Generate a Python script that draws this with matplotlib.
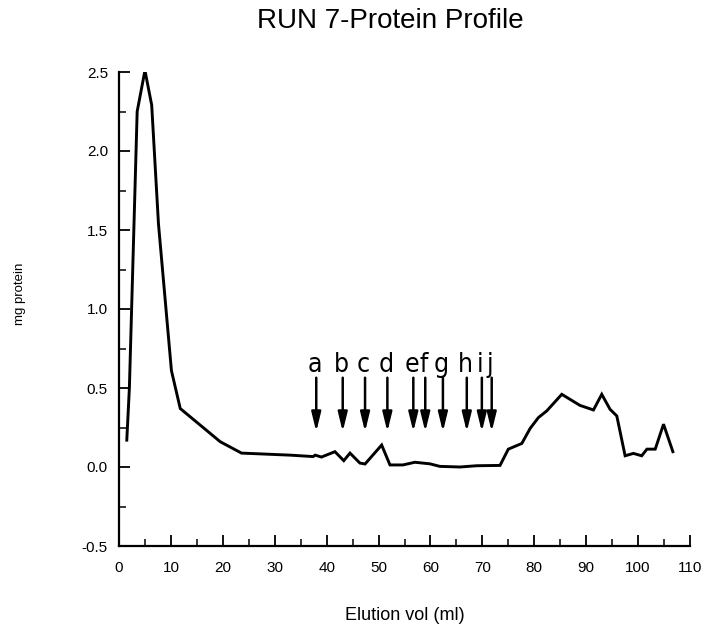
import matplotlib
matplotlib.use("Agg")
import matplotlib.pyplot as plt
from matplotlib.ticker import MultipleLocator, FormatStrFormatter

# Data
elution_ml = [1.5, 2.0, 3.5, 5.0, 6.3, 7.6, 10.1, 11.8, 19.5, 23.6, 33.0, 37.4, 37.8, 39.0,
              41.6, 43.3, 44.5, 46.4, 47.4, 50.6, 52.2, 54.7, 57.0, 59.9, 61.8, 65.7,
              68.9, 73.4, 75.0, 77.6, 79.2, 80.8, 82.4, 85.3, 88.8, 91.4, 93.0, 94.6,
              95.9, 97.5, 99.1, 100.7, 101.7, 103.3, 104.9, 106.7]
mg_protein = [0.17, 0.50, 2.25, 2.51, 2.29, 1.54, 0.61, 0.37, 0.16, 0.088, 0.075, 0.066, 0.075, 0.063,
              0.097, 0.04, 0.088, 0.025, 0.019, 0.139, 0.013, 0.013, 0.03, 0.02, 0.004, 0.0,
              0.008, 0.01, 0.113, 0.149, 0.244, 0.313, 0.355, 0.46, 0.39, 0.361, 0.46, 0.365,
              0.323, 0.071, 0.086, 0.071, 0.113, 0.113, 0.271, 0.097]

marker_labels = ["a", "b", "c", "d", "e", "f", "g", "h", "i", "j"]
marker_x = [38.0, 43.1, 47.4, 51.7, 56.7, 59.0, 62.4, 67.0, 69.9, 71.8]

plt.rcParams['font.family'] = ['Liberation Sans', 'DejaVu Sans']

W, H = 709, 628
fig = plt.figure(figsize=(W / 100, H / 100), dpi=100)
ax_l, ax_r, ax_t, ax_b = 119, 690, 72, 546
ax = fig.add_axes([ax_l / W, 1 - ax_b / H, (ax_r - ax_l) / W, (ax_b - ax_t) / H])

ax.plot(elution_ml, mg_protein, color='black', lw=2.1, solid_joinstyle='miter')

for lab, xv in zip(marker_labels, marker_x):
    ax.annotate("", xy=(xv, 0.223), xytext=(xv, 0.565),
                arrowprops=dict(arrowstyle='-|>,head_length=1.15,head_width=0.28',
                                color='black', lw=1.8, shrinkA=0, shrinkB=0))
    ax.text(xv - 0.3, 0.645, lab, ha='center', va='center', fontsize=19,
            family=['DejaVu Sans'], fontstretch='condensed')

ax.set_xlim(0, 110)
ax.set_ylim(-0.5, 2.5)
ax.spines['top'].set_visible(False)
ax.spines['right'].set_visible(False)
ax.spines['left'].set_linewidth(1.6)
ax.spines['bottom'].set_linewidth(1.6)

ax.xaxis.set_major_locator(MultipleLocator(10))
ax.xaxis.set_minor_locator(MultipleLocator(5))
ax.yaxis.set_major_locator(MultipleLocator(0.5))
ax.yaxis.set_minor_locator(MultipleLocator(0.25))
ax.yaxis.set_major_formatter(FormatStrFormatter('%.1f'))

ax.tick_params(axis='both', which='major', direction='in', length=8, width=1.3, labelsize=11)
ax.tick_params(axis='both', which='minor', direction='in', length=5, width=1.1)
ax.tick_params(axis='y', which='major', pad=8)
ax.tick_params(axis='x', which='major', pad=11)

fig.text(390 / W, 1 - 28 / H, "RUN 7-Protein Profile", fontsize=20,
         ha='center', va='baseline')
ax.set_xlabel("Elution vol (ml)", fontsize=13)
ax.xaxis.set_label_coords(0.5, -(607 - ax_b) / (ax_b - ax_t))
ax.xaxis.label.set_va('top')
ax.set_ylabel("mg protein", fontsize=9.5)
ax.yaxis.set_label_coords(-(ax_l - 20) / (ax_r - ax_l), (ax_b - 294) / (ax_b - ax_t))
ax.yaxis.label.set_va('center')

fig.savefig("out.png", dpi=100)
